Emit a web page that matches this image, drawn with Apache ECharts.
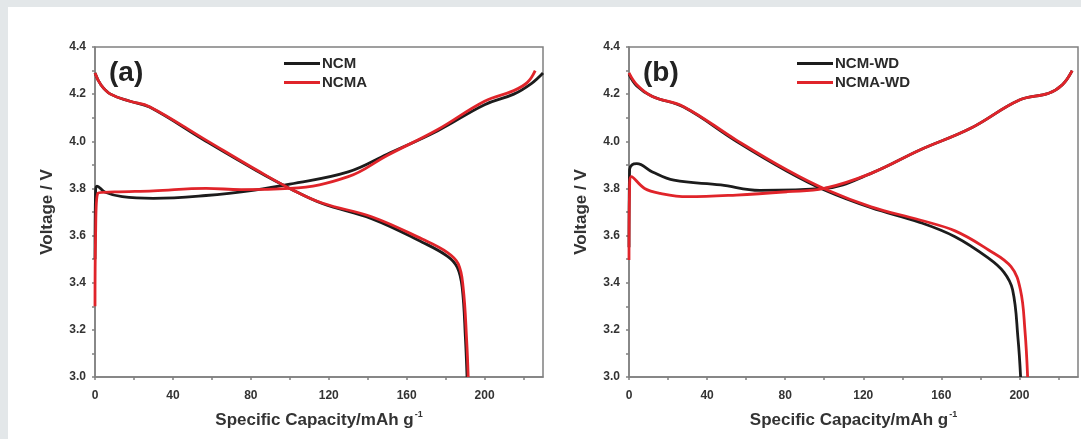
<!DOCTYPE html>
<html>
<head>
<meta charset="utf-8">
<script src="https://cdn.jsdelivr.net/npm/echarts@6/dist/echarts.min.js"></script>
<style>
  html, body { margin: 0; padding: 0; background: #e3e7e9; }
  #chart { width: 1081px; height: 439px; }
</style>
</head>
<body>
<div id="chart"></div>
<script>
// panel (a)
var ncmCharge = [[0, 3.50], [0.3, 3.79], [1, 3.81], [5, 3.785], [14, 3.765], [30, 3.758], [57, 3.77], [82, 3.793], [100, 3.818], [130, 3.87], [150, 3.945], [176, 4.045], [200, 4.155], [215, 4.2], [224, 4.245], [230, 4.29]];
var ncmaCharge = [[0, 3.30], [0.3, 3.60], [1.5, 3.78], [10, 3.785], [30, 3.79], [57, 3.80], [75, 3.795], [100, 3.80], [130, 3.85], [150, 3.94], [176, 4.05], [200, 4.17], [215, 4.215], [222, 4.25], [226, 4.30]];
var ncmDischarge = [[0, 4.29], [3, 4.24], [8, 4.20], [18, 4.17], [28, 4.145], [57, 4.0], [83, 3.875], [100, 3.80], [117, 3.735], [142, 3.672], [168, 3.572], [181, 3.512], [186, 3.465], [188.5, 3.38], [190.2, 3.16], [191, 3.0]];
var ncmaDischarge = [[0, 4.29], [3, 4.24], [8, 4.20], [18, 4.17], [28, 4.147], [57, 4.005], [83, 3.878], [100, 3.80], [117, 3.737], [142, 3.68], [168, 3.585], [181, 3.528], [186.5, 3.48], [189, 3.38], [190.8, 3.157], [191.6, 3.0]];
// panel (b)
var wdNcmCharge = [[0, 3.55], [0.3, 3.88], [1.5, 3.90], [4, 3.905], [12, 3.87], [23, 3.835], [47, 3.815], [67, 3.792], [100, 3.80], [124, 3.864], [149, 3.963], [175, 4.055], [200, 4.175], [215, 4.204], [222, 4.24], [227, 4.30]];
var wdNcmaCharge = [[0, 3.496], [0.3, 3.80], [1.2, 3.85], [8, 3.80], [16, 3.779], [30, 3.765], [55, 3.772], [81, 3.786], [100, 3.80], [124, 3.864], [149, 3.963], [175, 4.055], [200, 4.175], [215, 4.204], [222, 4.24], [227, 4.30]];
var wdNcmDischarge = [[0, 4.285], [4, 4.235], [12, 4.19], [28, 4.145], [55, 4.0], [81, 3.873], [101, 3.79], [124, 3.718], [149, 3.656], [167, 3.595], [184, 3.505], [192, 3.445], [196.5, 3.37], [199.3, 3.16], [200.6, 3.0]];
var wdNcmaDischarge = [[0, 4.29], [4, 4.24], [12, 4.19], [28, 4.147], [55, 4.005], [81, 3.878], [101.5, 3.793], [124, 3.722], [149, 3.666], [167, 3.62], [184, 3.54], [195.7, 3.468], [200.5, 3.37], [202.8, 3.2], [204.2, 3.0]];

var namesA = ["NCM", "NCMA"];
var namesB = ["NCM-WD", "NCMA-WD"];
var panelLabels = ["(a)", "(b)"];

var BLACK = "#1c1c1c";
var RED = "#e0242a";
var AXIS = "#808080";
var FONT = "Liberation Sans, Arial, sans-serif";

function xAxisOf(i) {
  return {
    gridIndex: i, type: "value", min: 0, max: 230, interval: 20,
    name: "{a|Specific Capacity/mAh g}{s|-1}", nameLocation: "middle", nameGap: 33,
    nameTextStyle: {
      rich: {
        a: { fontFamily: FONT, fontWeight: "bold", fontSize: 17, color: "#333" },
        s: { fontFamily: FONT, fontWeight: "bold", fontSize: 9, color: "#333", padding: [0, 0, 11, 1] }
      }
    },
    axisLine: { show: true, onZero: false, lineStyle: { color: AXIS, width: 1.5 } },
    axisTick: { show: true, inside: false, length: 3, lineStyle: { color: AXIS, width: 1.5 } },
    axisLabel: {
      showMaxLabel: false, margin: 13, color: "#333", fontFamily: FONT, fontWeight: "bold", fontSize: 12,
      formatter: function (v) { return Math.round(v) % 40 === 0 && v <= 200 ? String(v) : ""; }
    },
    splitLine: { show: false }
  };
}

function yAxisOf(i) {
  return {
    gridIndex: i, type: "value", min: 3.0, max: 4.4, interval: 0.1,
    name: "Voltage / V", nameLocation: "middle", nameGap: 39, nameRotate: 90,
    nameTextStyle: { fontFamily: FONT, fontWeight: "bold", fontSize: 17, color: "#333" },
    axisLine: { show: true, onZero: false, lineStyle: { color: AXIS, width: 1.5 } },
    axisTick: { show: true, inside: false, length: 3, lineStyle: { color: AXIS, width: 1.5 } },
    axisLabel: {
      margin: 9, color: "#333", fontFamily: FONT, fontWeight: "bold", fontSize: 12,
      formatter: function (v) { return Math.round(v * 10) % 2 === 0 ? v.toFixed(1) : ""; }
    },
    splitLine: { show: false }
  };
}

function curve(name, data, color, i) {
  return {
    name: name, type: "line", data: data, xAxisIndex: i, yAxisIndex: i,
    showSymbol: false, smooth: 0.4,
    lineStyle: { color: color, width: 2.8 }, itemStyle: { color: color },
    z: color === RED ? 3 : 2
  };
}

function legendOf(names, left) {
  return {
    data: names, orient: "vertical", left: left, top: 51,
    icon: "rect", itemWidth: 36, itemHeight: 3, itemGap: 4,
    textStyle: { fontFamily: FONT, fontWeight: "bold", fontSize: 15, color: "#2a2a2a", padding: [0, 0, 0, -3] }
  };
}

var chart = echarts.init(document.getElementById("chart"));
chart.setOption({
  backgroundColor: "#e3e7e9",
  animation: false,
  graphic: [
    { type: "rect", left: 8, top: 7, shape: { width: 1073, height: 432 }, style: { fill: "#ffffff" }, z: -10 },
    { type: "text", left: 109, top: 59, style: { text: panelLabels[0], font: "bold 28px " + FONT, fill: "#222" } },
    { type: "text", left: 643, top: 59, style: { text: panelLabels[1], font: "bold 28px " + FONT, fill: "#222" } }
  ],
  grid: [
    { left: 95, right: 538, top: 47, bottom: 62, show: true, borderColor: AXIS, borderWidth: 1.5, backgroundColor: "transparent" },
    { left: 629, right: 3, top: 47, bottom: 62, show: true, borderColor: AXIS, borderWidth: 1.5, backgroundColor: "transparent" }
  ],
  legend: [legendOf(namesA, 279), legendOf(namesB, 792)],
  xAxis: [xAxisOf(0), xAxisOf(1)],
  yAxis: [yAxisOf(0), yAxisOf(1)],
  series: [
    curve(namesA[0], ncmCharge, BLACK, 0),
    curve(namesA[0], ncmDischarge, BLACK, 0),
    curve(namesA[1], ncmaCharge, RED, 0),
    curve(namesA[1], ncmaDischarge, RED, 0),
    curve(namesB[0], wdNcmCharge, BLACK, 1),
    curve(namesB[0], wdNcmDischarge, BLACK, 1),
    curve(namesB[1], wdNcmaCharge, RED, 1),
    curve(namesB[1], wdNcmaDischarge, RED, 1)
  ]
});
</script>
</body>
</html>
